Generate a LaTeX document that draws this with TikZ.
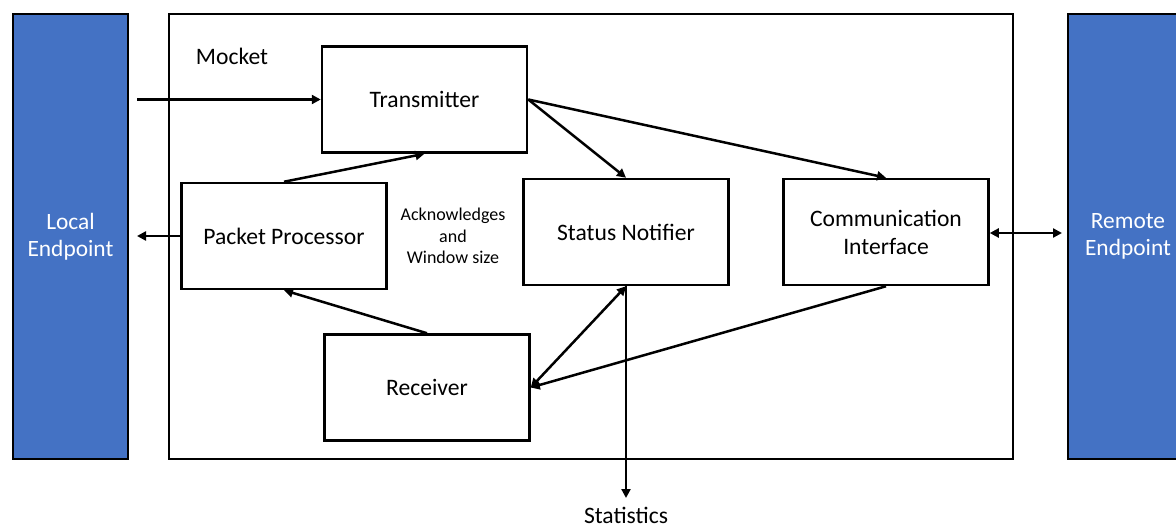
\documentclass[tikz,border=0pt]{standalone}
\usepackage{fontspec}
\setmainfont{Carlito}
\usetikzlibrary{arrows.meta}
\definecolor{endblue}{HTML}{4472C4}
\tikzset{
  lbl/.style={font=\fontsize{11.8}{14}\selectfont, align=center},
  blk/.style={lbl, draw=black, line width=1.25pt, fill=white, minimum width=102.5pt, minimum height=53pt, inner sep=0pt},
  endpt/.style={draw=black, line width=1.25pt, fill=endblue, text=white, inner sep=0pt, font=\fontsize{11.7}{13.5}\selectfont, align=center},
  conn/.style={line width=1.25pt, -{Triangle[length=4.5pt,width=4.5pt]}},
  both/.style={line width=1.25pt, {Triangle[length=4.5pt,width=4.5pt]}-{Triangle[length=4.5pt,width=4.5pt]}},
}
\begin{document}
\begin{tikzpicture}[x=0.5pt,y=-0.5pt]
\useasboundingbox (0,0) rectangle (1176,529);
% endpoints and the Mocket frame
\node[endpt, minimum width=57.5pt, minimum height=222.5pt] (local) at (70.5,236.5) {Local\\Endpoint};
\node[endpt, minimum width=60pt, minimum height=222.5pt] (remote) at (1128,236.5) {Remote\\Endpoint};
\draw[line width=1.25pt] (169,14) rectangle (1013,459);
\node[lbl] (mocket) at (232,56) {Mocket};
% inner blocks
\node[blk] (tx) at (424.5,99.5) {Transmitter};
\node[blk] (pp) at (284,236) {Packet Processor};
\node[blk] (sn) at (626,232) {Status Notifier};
\node[blk] (ci) at (886,232) {Communication\\Interface};
\node[blk] (rx) at (427,387.5) {Receiver};
\node[font=\fontsize{9}{10.75}\selectfont, align=center] (ack) at (453,236) {Acknowledges\\and\\Window size};
\node[lbl, inner sep=0pt] (stats) at (626,515) {Statistics};
% free ends
\coordinate (inL) at (137,99.5);
\coordinate (outL) at (137,236);
\coordinate (statEnd) at (626,498);
\coordinate (remL) at (1062,233);
% connectors
\draw[conn] (inL) -- (tx.west);
\draw[conn] (pp.west) -- (outL);
\draw[conn] (pp.north) -- (tx.south);
\draw[conn] (rx.north) -- (pp.south);
\draw[conn] (tx.east) -- (sn.north);
\draw[conn] (tx.east) -- (ci.north);
\draw[conn] (ci.south) -- (rx.east);
\draw[both] (rx.east) -- (sn.south);
\draw[conn] (sn.south) -- (statEnd);
\draw[both] (ci.east |- remL) -- (remL);
\end{tikzpicture}
\end{document}
